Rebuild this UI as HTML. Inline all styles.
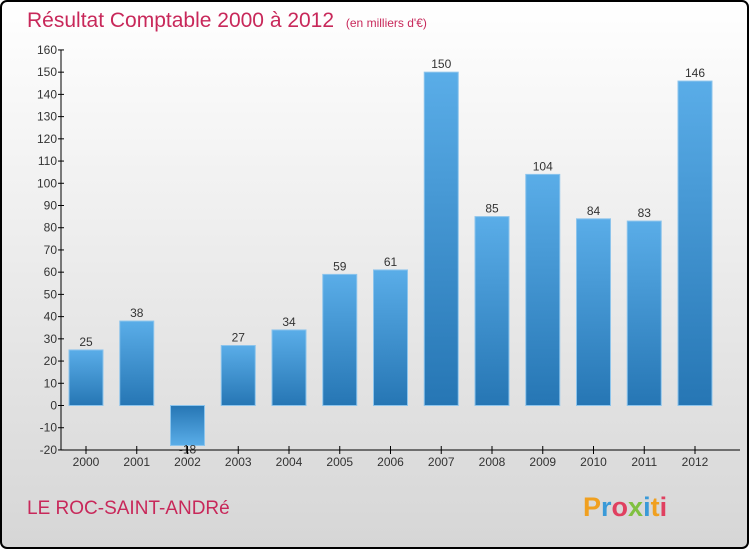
<!DOCTYPE html>
<html><head><meta charset="utf-8"><style>
body{margin:0;}
#c{width:750px;height:550px;position:relative;font-family:"Liberation Sans",sans-serif;}
</style></head><body>
<div id="c">
<svg width="750" height="550" xmlns="http://www.w3.org/2000/svg">
<defs>
<linearGradient id="bg" x1="0" y1="0" x2="0" y2="1"><stop offset="0" stop-color="#ffffff"/><stop offset="1" stop-color="#d6d6d6"/></linearGradient>
<linearGradient id="bp" x1="0" y1="0" x2="0" y2="1"><stop offset="0" stop-color="#5aade8"/><stop offset="1" stop-color="#2676b4"/></linearGradient>
<linearGradient id="bn" x1="0" y1="0" x2="0" y2="1"><stop offset="0" stop-color="#2676b4"/><stop offset="1" stop-color="#5aade8"/></linearGradient>
</defs>
<rect x="1" y="1" width="747" height="547" rx="6" fill="url(#bg)" stroke="#000" stroke-width="2"/>
<text x="27" y="27" font-size="21" fill="#c8285a">Résultat Comptable 2000 à 2012 <tspan font-size="12" dx="6">(en milliers d'€)</tspan></text>
<g id="plot"></g>
<text x="27" y="514" font-size="19" fill="#c8285a">LE ROC-SAINT-ANDRé</text>
<text x="583" y="516" font-size="27" font-weight="bold"><tspan fill="#f0a020">P</tspan><tspan fill="#3a9ad8">r</tspan><tspan fill="#e04060">o</tspan><tspan fill="#80c040">x</tspan><tspan fill="#3a9ad8">i</tspan><tspan fill="#f0a020">t</tspan><tspan fill="#e04060">i</tspan></text>
</svg></div>
<script>
const years=["2000","2001","2002","2003","2004","2005","2006","2007","2008","2009","2010","2011","2012"];
const values=[25,38,-18,27,34,59,61,150,85,104,84,83,146];
const ticks=[-20,-10,0,10,20,30,40,50,60,70,80,90,100,110,120,130,140,150,160];
const NS="http://www.w3.org/2000/svg";
const g=document.getElementById('plot');
const y=v=>405.5-(v)*400/180;
const x=i=>86+i*50.75;
function mk(t,a,txt){const e=document.createElementNS(NS,t);for(const k in a)e.setAttribute(k,a[k]);if(txt!==undefined)e.textContent=txt;g.appendChild(e);return e;}
values.forEach((v,i)=>{
 const top=Math.min(y(v),y(0)),h=Math.abs(y(v)-y(0));
 const r=mk('rect',{x:x(i)-17,y:top,width:34,height:h,fill:v<0?'url(#bn)':'url(#bp)',stroke:'#8cc4ec','stroke-width':1});
 
 
 const t=mk('text',{x:x(i),y:v<0?y(v)+8:y(v)-4,'font-size':12,fill:'#333','text-anchor':'middle'},String(values[i]));
 
 
 const xl=mk('text',{x:x(i),y:466,'font-size':12,fill:'#333','text-anchor':'middle'},years[i]);
 
 
 mk('line',{x1:x(i),x2:x(i),y1:446,y2:454,stroke:'#000'});
});
ticks.forEach(t=>{
 mk('line',{x1:58,x2:64,y1:y(t),y2:y(t),stroke:'#000'});
 const l=mk('text',{x:57,y:y(t)+4,'font-size':12,fill:'#333','text-anchor':'end'},String(t));
 
 
});
const ya=mk('line',{x1:61,x2:61,y1:50,y2:450,stroke:'#000'});


const xa=mk('line',{x1:61,x2:740,y1:450,y2:450,stroke:'#000'});


</script>
</body></html>
